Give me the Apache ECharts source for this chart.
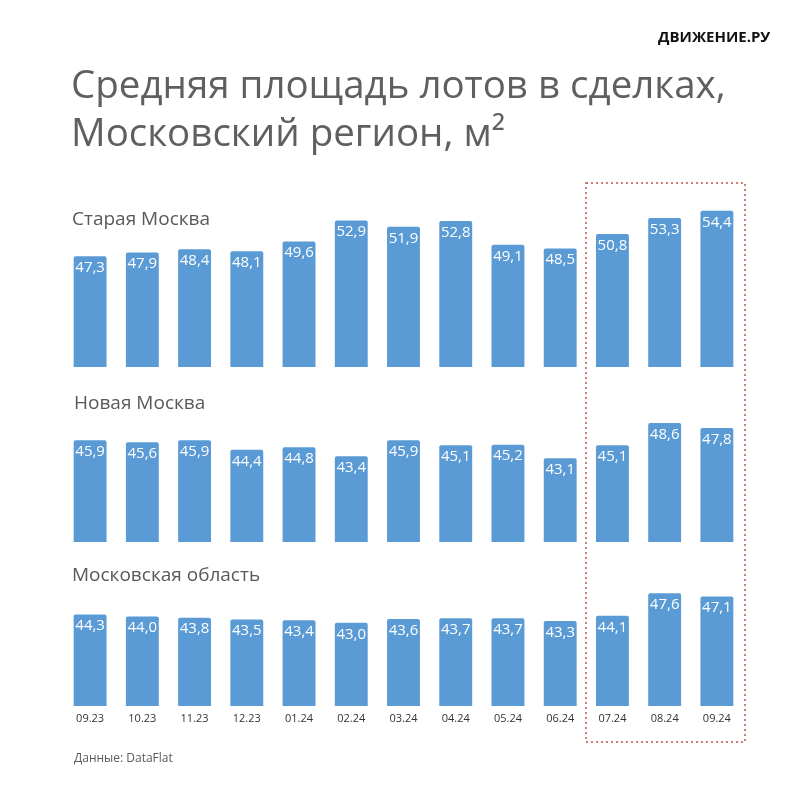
<!DOCTYPE html>
<html>
<head>
<meta charset="utf-8">
<script src="https://cdn.jsdelivr.net/npm/echarts@6/dist/echarts.min.js"></script>
<style>
  html, body { margin: 0; padding: 0; background: #fff; }
  #chart { width: 800px; height: 800px; }
</style>
</head>
<body>
<div id="chart"></div>
<script>
// месяцы
var months = ['09.23', '10.23', '11.23', '12.23', '01.24', '02.24', '03.24', '04.24', '05.24', '06.24', '07.24', '08.24', '09.24'];
var panelNames = ['Старая Москва', 'Новая Москва', 'Московская область'];
var oldMoscow = [47.3, 47.9, 48.4, 48.1, 49.6, 52.9, 51.9, 52.8, 49.1, 48.5, 50.8, 53.3, 54.4];
var newMoscow = [45.9, 45.6, 45.9, 44.4, 44.8, 43.4, 45.9, 45.1, 45.2, 43.1, 45.1, 48.6, 47.8];
var moscowRegion = [44.3, 44.0, 43.8, 43.5, 43.4, 43.0, 43.6, 43.7, 43.7, 43.3, 44.1, 47.6, 47.1];
var yMin = 30;
var yMax = [56, 50, 50];

var chart = echarts.init(document.getElementById('chart'));
var font = '"Open Sans", "Noto Sans", sans-serif';
var seriesData = [oldMoscow, newMoscow, moscowRegion];
// нижняя граница каждой панели и масштаб
var bottoms = [367, 542, 706];
var pxPerUnit = 6.4;

var grids = [], xAxes = [], yAxes = [], series = [];
for (var i = 0; i < 3; i++) {
  var h = (yMax[i] - yMin) * pxPerUnit;
  grids.push({ left: 64, right: 57, top: bottoms[i] - h, height: h });
  xAxes.push({
    type: 'category',
    gridIndex: i,
    data: months,
    axisLine: { show: false },
    axisTick: { show: false },
    axisLabel: {
      show: i === 2,
      margin: 7,
      fontSize: 11,
      color: '#333',
      fontFamily: font
    }
  });
  yAxes.push({
    type: 'value',
    gridIndex: i,
    min: yMin,
    max: yMax[i],
    show: false,
    splitLine: { show: false }
  });
  series.push({
    name: panelNames[i],
    type: 'bar',
    xAxisIndex: i,
    yAxisIndex: i,
    data: seriesData[i],
    barWidth: '63%',
    itemStyle: { color: '#5b9bd5', borderRadius: [2, 2, 0, 0] },
    label: {
      show: true,
      position: 'insideTop',
      distance: 4,
      color: '#fff',
      fontSize: 15,
      fontFamily: font,
      formatter: function (p) { return p.value.toFixed(1).replace('.', ','); }
    }
  });
}

var option = {
  backgroundColor: '#fff',
  animation: false,
  title: [
    { text: 'Средняя площадь лотов в сделках,\nМосковский регион, м²', left: 66, top: 58,
      textStyle: { fontSize: 38.5, fontWeight: 'normal', color: '#5f5f5f', fontFamily: font, lineHeight: 48 } },
    { text: panelNames[0], left: 67, top: 205, textStyle: { fontSize: 19, fontWeight: 'normal', color: '#595959', fontFamily: font } },
    { text: panelNames[1], left: 69, top: 389, textStyle: { fontSize: 19, fontWeight: 'normal', color: '#595959', fontFamily: font } },
    { text: panelNames[2], left: 67, top: 561, textStyle: { fontSize: 19, fontWeight: 'normal', color: '#595959', fontFamily: font } },
    { text: 'Данные: DataFlat', left: 69, top: 748, textStyle: { fontSize: 12, fontWeight: 'normal', color: '#595959', fontFamily: font } },
    { text: 'ДВИЖЕНИЕ.РУ', left: 653, top: 25, textStyle: { fontSize: 15, fontWeight: 'bold', color: '#111', fontFamily: font } }
  ],
  grid: grids,
  xAxis: xAxes,
  yAxis: yAxes,
  series: series,
  graphic: [{
    type: 'rect',
    shape: { x: 586, y: 183, width: 159, height: 559 },
    style: { fill: 'none', stroke: '#c0504d', lineWidth: 1.5, lineDash: [2, 3] },
    silent: true
  }]
};
chart.setOption(option);
</script>
</body>
</html>
